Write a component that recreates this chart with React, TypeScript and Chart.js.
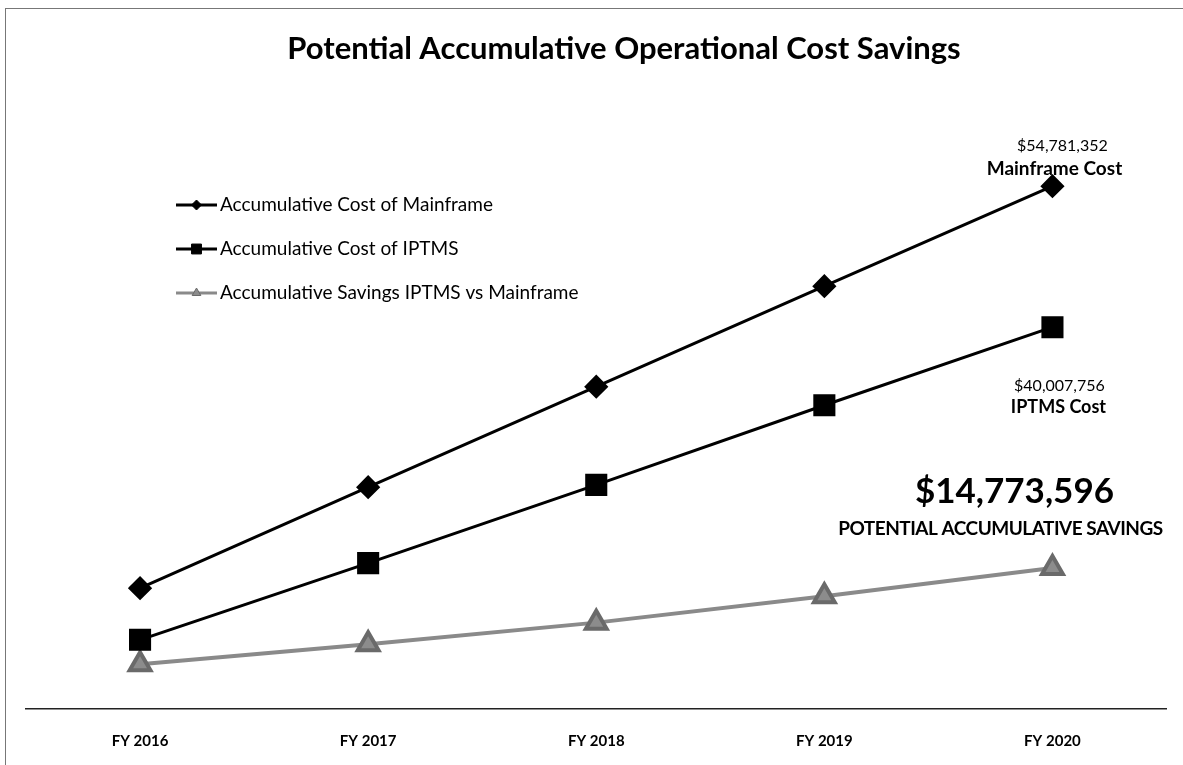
import React, { useEffect, useRef } from "react";
import { Chart, registerables } from "chart.js";
import { drawPoint } from "chart.js/helpers";

Chart.register(...registerables);

// ---- data ----
const categories = ["FY 2016", "FY 2017", "FY 2018", "FY 2019", "FY 2020"];
const mainframeCost = [12660000, 23240000, 33770000, 44300000, 54781352];
const iptmsCost = [7250000, 15290000, 23480000, 31830000, 40007756];
const savings = [4690000, 6790000, 9050000, 11820000, 14773596];
const seriesNames = [
  "Accumulative Cost of Mainframe",
  "Accumulative Cost of IPTMS",
  "Accumulative Savings IPTMS vs Mainframe",
];
const titleText = "Potential Accumulative Operational Cost Savings";
const mainframeLabel = "Mainframe Cost";
const iptmsLabel = "IPTMS Cost";
const savingsLabel = "POTENTIAL ACCUMULATIVE SAVINGS";
const yMin = 0;
const yMax = 62000000;

const FONT = "Lato, 'Open Sans', sans-serif";
const fmt = (v: number) => "$" + Math.round(v).toLocaleString("en-US");

const overlayPlugin = {
  id: "overlay",
  afterDraw(chart: any) {
    const ctx: CanvasRenderingContext2D = chart.ctx;
    const xs = chart.scales.x;
    const ys = chart.scales.y;
    ctx.save();
    ctx.fillStyle = "#000";

    // title
    ctx.textAlign = "center";
    ctx.textBaseline = "middle";
    ctx.font = `bold 31px ${FONT}`;
    ctx.fillText(titleText, 624, 49);

    // legend
    chart.data.datasets.forEach((ds: any, i: number) => {
      const ly = 205 + i * 44;
      ctx.strokeStyle = ds.borderColor;
      ctx.lineWidth = 3;
      ctx.beginPath();
      ctx.moveTo(176, ly);
      ctx.lineTo(217, ly);
      ctx.stroke();
      ctx.fillStyle = ds.pointBackgroundColor;
      ctx.strokeStyle = ds.pointBorderColor;
      ctx.lineWidth = 1;
      drawPoint(ctx, { pointStyle: ds.pointStyle, radius: ds.legendRadius, borderWidth: 1, rotation: 0 } as any, 196.5, ly);
      ctx.fillStyle = "#000";
      ctx.textAlign = "left";
      ctx.textBaseline = "middle";
      ctx.font = `19px ${FONT}`;
      ctx.fillText(ds.label, 220, ly);
    });

    const last = categories.length - 1;
    const lx = xs.getPixelForValue(last);

    // mainframe annotation
    const my = ys.getPixelForValue(mainframeCost[last]);
    ctx.textAlign = "center";
    ctx.fillStyle = "#000";
    ctx.font = `16px ${FONT}`;
    ctx.fillText(fmt(mainframeCost[last]), lx + 10, my - 40);
    ctx.font = `bold 19px ${FONT}`;
    ctx.fillText(mainframeLabel, lx + 2, my - 17);

    // IPTMS annotation
    const iy = ys.getPixelForValue(iptmsCost[last]);
    ctx.font = `16px ${FONT}`;
    ctx.fillText(fmt(iptmsCost[last]), lx + 7, iy + 59);
    ctx.font = `bold 18px ${FONT}`;
    ctx.fillText(iptmsLabel, lx + 6, iy + 80);

    // savings annotation
    const sy = ys.getPixelForValue(savings[last]);
    ctx.font = `bold 35px ${FONT}`;
    ctx.fillText(fmt(savings[last]), lx - 38, sy - 76);
    ctx.font = `bold 19px ${FONT}`;
    (ctx as any).letterSpacing = "-0.5px";
    ctx.fillText(savingsLabel, lx - 52, sy - 39);
    (ctx as any).letterSpacing = "0px";

    ctx.restore();
  },
};

export default function App() {
  const ref = useRef<HTMLCanvasElement>(null);

  useEffect(() => {
    if (!ref.current) return;
    const chart = new Chart(ref.current, {
      type: "line",
      data: {
        labels: categories,
        datasets: [
          {
            label: seriesNames[0],
            data: mainframeCost,
            borderColor: "#000",
            backgroundColor: "#000",
            pointBackgroundColor: "#000",
            pointBorderColor: "#000",
            borderWidth: 3,
            pointStyle: "rectRot",
            pointRadius: 10,
            legendRadius: 5,
            tension: 0,
            clip: false,
          } as any,
          {
            label: seriesNames[1],
            data: iptmsCost,
            borderColor: "#000",
            backgroundColor: "#000",
            pointBackgroundColor: "#000",
            pointBorderColor: "#000",
            borderWidth: 3,
            pointStyle: "rect",
            pointRadius: 13.5,
            legendRadius: 7,
            tension: 0,
            clip: false,
          } as any,
          {
            label: seriesNames[2],
            data: savings,
            borderColor: "#8a8a8a",
            backgroundColor: "#8a8a8a",
            pointBackgroundColor: "#8c8c8c",
            pointBorderColor: "#6a6a6a",
            borderWidth: 4,
            pointStyle: "triangle",
            pointRadius: 12,
            legendRadius: 5,
            tension: 0,
            clip: false,
          } as any,
        ],
      },
      options: {
        responsive: false,
        animation: false,
        layout: { padding: { top: 117.3, left: 26, right: 14, bottom: 0 } },
        plugins: {
          legend: { display: false },
          title: { display: false },
          tooltip: { enabled: false },
        },
        scales: {
          x: {
            type: "category",
            offset: true,
            grid: { display: false, drawTicks: false },
            border: { display: true, color: "#222", width: 1.5 },
            ticks: {
              color: "#000",
              padding: 23,
              font: { family: FONT, size: 15, weight: "bold" },
            },
            afterFit: (s: any) => {
              s.height = 56;
            },
          },
          y: {
            display: false,
            min: yMin,
            max: yMax,
          },
        },
      },
      plugins: [overlayPlugin],
    } as any);
    return () => chart.destroy();
  }, []);

  return (
    <div style={{ position: "absolute", left: 0, top: 0, width: 1183, height: 765, background: "#fff" }}>
      <canvas ref={ref} width={1183} height={765} style={{ display: "block" }} />
      <div
        style={{
          position: "absolute",
          left: 5,
          top: 8,
          width: 1178,
          height: 757,
          borderLeft: "1px solid #777",
          borderTop: "1px solid #777",
          pointerEvents: "none",
        }}
      />
    </div>
  );
}
